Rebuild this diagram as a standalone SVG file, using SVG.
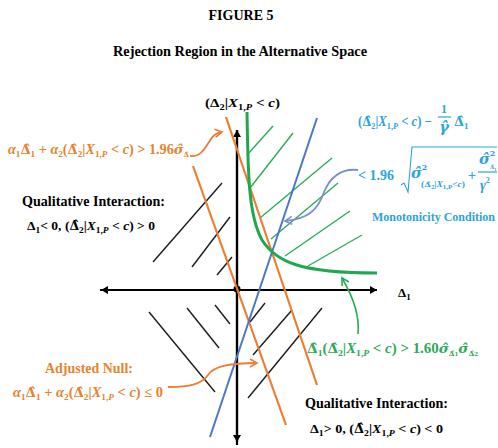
<svg xmlns="http://www.w3.org/2000/svg" width="498" height="448" viewBox="0 0 498 448">
<style>
text{font-family:"Liberation Serif",serif;font-weight:bold}
.h{font-family:"DejaVu Serif",serif;font-size:92%}
.i{font-style:italic}
.s{font-size:9px}
.ss{font-size:7px}
.ax{stroke:#000;stroke-width:2.2;fill:none}
.hb{stroke:#1a1a1a;stroke-width:1.4}
.hg{stroke:#2BAA5A;stroke-width:1.4}
.or{stroke:#ED7D31;stroke-width:2.2;fill:none}
.bl{stroke:#4A78C6;stroke-width:2;fill:none}
.gc{stroke:#1FA84F;stroke-width:3;fill:none}
.ot{fill:#E8822F}
.bt{fill:#2EA3DD}
.gt{fill:#2DAA5A}
</style>
<defs>
<marker id="ah" markerWidth="8" markerHeight="8" refX="7" refY="4" orient="auto" markerUnits="userSpaceOnUse"><path d="M0,0 L7,4 L0,8 Z" fill="#000"/></marker>
<marker id="oa" markerWidth="10" markerHeight="10" refX="8" refY="5" orient="auto" markerUnits="userSpaceOnUse"><path d="M1,1 L8,5 L1,9" fill="none" stroke="#ED7D31" stroke-width="1.6"/></marker>
<marker id="ba" markerWidth="10" markerHeight="10" refX="8" refY="5" orient="auto" markerUnits="userSpaceOnUse"><path d="M1,1 L8,5 L1,9" fill="none" stroke="#7B8FD0" stroke-width="1.6"/></marker>
<marker id="ga" markerWidth="10" markerHeight="10" refX="8" refY="5" orient="auto" markerUnits="userSpaceOnUse"><path d="M1,1 L8,5 L1,9" fill="none" stroke="#2BAA5A" stroke-width="1.6"/></marker>
</defs>

<g id="title">
<text x="241" y="20" font-size="14" text-anchor="middle">FIGURE 5</text>
<text x="240" y="56" font-size="14" text-anchor="middle" textLength="254" lengthAdjust="spacingAndGlyphs">Rejection Region in the Alternative Space</text>
</g>

<g id="hatching">
<line class="hb" x1="153" y1="262" x2="222" y2="183"/>
<line class="hb" x1="192" y1="267" x2="230" y2="217"/>
<line class="hb" x1="217" y1="275" x2="232" y2="257"/>
<line class="hb" x1="149" y1="312" x2="215" y2="392"/>
<line class="hb" x1="187" y1="308" x2="219" y2="348"/>
<line class="hb" x1="215" y1="305" x2="230" y2="324"/>
<line class="hb" x1="250" y1="322" x2="265" y2="303"/>
<line class="hb" x1="253" y1="355" x2="292" y2="310"/>
<line class="hb" x1="248" y1="398" x2="322" y2="308"/>
<line class="hg" x1="247" y1="155" x2="273" y2="126"/>
<line class="hg" x1="250" y1="188" x2="293" y2="133"/>
<line class="hg" x1="260" y1="218" x2="332" y2="158"/>
<line class="hg" x1="271" y1="239" x2="338" y2="183"/>
<line class="hg" x1="285" y1="256" x2="350" y2="211"/>
<line class="hg" x1="308" y1="266" x2="362" y2="235"/>
</g>

<g id="axes">
<line class="ax" x1="100" y1="290" x2="377" y2="290" marker-end="url(#ah)"/>
<line class="ax" x1="377" y1="290" x2="101" y2="290" marker-end="url(#ah)"/>
<line class="ax" x1="237" y1="445" x2="237" y2="130" marker-end="url(#ah)"/>
<line class="ax" x1="237" y1="130" x2="237" y2="442" marker-end="url(#ah)"/>
<circle cx="237" cy="289" r="3.5" fill="#000"/>
</g>

<g id="curves">
<line class="or" x1="226" y1="117" x2="317" y2="385"/>
<line class="or" x1="193" y1="166" x2="286" y2="425"/>
<line class="bl" x1="317" y1="118" x2="210" y2="437"/>
<path class="gc" d="M247,112 C248,170 248,215 262,240 C276,262 300,273 377,273"/>
</g>

<g id="connectors">
<path d="M190,156 C200,157 204,150 209,142 C213,135 216,133 222,132" fill="none" stroke="#ED7D31" stroke-width="1.8" marker-end="url(#oa)"/>
<path d="M168,387 C190,387 202,384 208,375 C214,366 230,363 257,363" fill="none" stroke="#ED7D31" stroke-width="1.8" marker-end="url(#oa)"/>
<path d="M358,170 C340,168 330,178 324,192 C318,210 308,219 285,221" fill="none" stroke="#7B8FD0" stroke-width="1.8" marker-end="url(#ba)"/>
<path d="M358,334 C360,315 352,295 342,278" fill="none" stroke="#2BAA5A" stroke-width="1.6" marker-end="url(#ga)"/>
</g>

<g id="axis-y-label">
<text x="205" y="107" font-size="13" textLength="75" lengthAdjust="spacingAndGlyphs">(Δ<tspan class="s" dy="3">2</tspan><tspan dy="-3">|</tspan><tspan class="i">X</tspan><tspan class="s" dy="3">1,</tspan><tspan class="s i">P</tspan><tspan dy="-3"> &lt; </tspan><tspan class="i">c</tspan>)</text>
</g>
<g id="axis-x-label">
<text x="398" y="297" font-size="13">Δ<tspan class="s" dy="3">1</tspan></text>
</g>

<g id="reject-label">
<text class="ot" x="8" y="154" font-size="14" textLength="181" lengthAdjust="spacingAndGlyphs"><tspan class="i">α</tspan><tspan class="s" dy="3">1</tspan><tspan class="h" dy="-3">Δ̂</tspan><tspan class="s" dy="3">1</tspan><tspan dy="-3"> + </tspan><tspan class="i">α</tspan><tspan class="s" dy="3">2</tspan><tspan dy="-3">(</tspan><tspan class="h">Δ̂</tspan><tspan class="s" dy="3">2</tspan><tspan dy="-3">|</tspan><tspan class="i">X</tspan><tspan class="s" dy="3">1,</tspan><tspan class="s i">P</tspan><tspan dy="-3"> &lt; </tspan><tspan class="i">c</tspan><tspan>) &gt; 1.96</tspan><tspan class="h i">σ̂</tspan><tspan class="ss h" dy="3">Δ̂</tspan></text>
</g>

<g id="qi-left">
<text x="22" y="206" font-size="15" textLength="143" lengthAdjust="spacingAndGlyphs">Qualitative Interaction:</text>
<text x="27" y="230" font-size="13" textLength="128" lengthAdjust="spacingAndGlyphs">Δ<tspan class="s" dy="3">1</tspan><tspan dy="-3">&lt; 0, (</tspan><tspan class="h">Δ̂</tspan><tspan class="s" dy="3">2</tspan><tspan dy="-3">|</tspan><tspan class="i">X</tspan><tspan class="s" dy="3">1,</tspan><tspan class="s i">P</tspan><tspan dy="-3"> &lt; </tspan><tspan class="i">c</tspan><tspan>) &gt; 0</tspan></text>
</g>

<g id="monotonicity">
<text class="bt" x="358" y="126" font-size="14" textLength="74" lengthAdjust="spacingAndGlyphs">(<tspan class="h">Δ̂</tspan><tspan class="s" dy="3">2</tspan><tspan dy="-3">|</tspan><tspan class="i">X</tspan><tspan class="s" dy="3">1,</tspan><tspan class="s i">P</tspan><tspan dy="-3"> &lt; </tspan><tspan class="i">c</tspan><tspan>) −</tspan></text>
<text class="bt" x="444" y="113" font-size="12" text-anchor="middle">1</text>
<line x1="438" y1="117" x2="451" y2="117" stroke="#2EA3DD" stroke-width="1.2"/>
<text class="bt i h" x="444" y="132" font-size="13" text-anchor="middle">γ̂</text>
<text class="bt" x="454" y="126" font-size="14"><tspan class="h">Δ̂</tspan><tspan class="s" dy="3">1</tspan></text>
<text class="bt" x="358" y="180" font-size="14">&lt; 1.96</text>
<path d="M401,185 L404,183 L408,192 L412,147 L497,147" fill="none" stroke="#2EA3DD" stroke-width="1.1"/>
<text class="bt i h" x="411" y="178" font-size="14">σ̂<tspan font-size="8" font-style="normal" dy="-8">2</tspan></text>
<text class="bt" x="421" y="187" font-size="7.5" textLength="44" lengthAdjust="spacingAndGlyphs">(<tspan class="h">Δ̂</tspan><tspan font-size="5.5" dy="2">2</tspan><tspan dy="-2">|</tspan><tspan class="i">X</tspan><tspan font-size="5.5" dy="2">1,P</tspan><tspan dy="-2">&lt;</tspan><tspan class="i">c</tspan>)</text>
<text class="bt" x="468" y="180" font-size="14">+</text>
<text class="bt i h" x="479" y="164" font-size="14">σ̂<tspan font-size="8" font-style="normal" dy="-8">2</tspan></text>
<text class="bt" x="490" y="169" font-size="6"><tspan class="h">Δ̂</tspan><tspan font-size="4.5" dy="1.5">1</tspan></text>
<line x1="478" y1="172" x2="497" y2="172" stroke="#2EA3DD" stroke-width="1.2"/>
<text class="bt i" x="480" y="190" font-size="14">γ<tspan font-size="8" font-style="normal" dy="-7">2</tspan></text>
<text class="bt" x="372" y="221" font-size="12">Monotonicity Condition</text>
</g>

<g id="green-label">
<text class="gt" x="307" y="353" font-size="14" textLength="171" lengthAdjust="spacingAndGlyphs"><tspan class="h">Δ̂</tspan><tspan class="s" dy="3">1</tspan><tspan dy="-3">(</tspan><tspan class="h">Δ̂</tspan><tspan class="s" dy="3">2</tspan><tspan dy="-3">|</tspan><tspan class="i">X</tspan><tspan class="s" dy="3">1,</tspan><tspan class="s i">P</tspan><tspan dy="-3"> &lt; </tspan><tspan class="i">c</tspan><tspan>) &gt; 1.60</tspan><tspan class="i h">σ̂</tspan><tspan class="ss h" dy="3">Δ̂</tspan><tspan class="ss">1</tspan><tspan class="i h" dy="-3">σ̂</tspan><tspan class="ss h" dy="3">Δ̂</tspan><tspan class="ss">2</tspan></text>
</g>

<g id="adjusted-null">
<text class="ot" x="45" y="373" font-size="15" textLength="88" lengthAdjust="spacingAndGlyphs">Adjusted Null:</text>
<text class="ot" x="13" y="397" font-size="14" textLength="150" lengthAdjust="spacingAndGlyphs"><tspan class="i">α</tspan><tspan class="s" dy="3">1</tspan><tspan class="h" dy="-3">Δ̂</tspan><tspan class="s" dy="3">1</tspan><tspan dy="-3"> + </tspan><tspan class="i">α</tspan><tspan class="s" dy="3">2</tspan><tspan dy="-3">(</tspan><tspan class="h">Δ̂</tspan><tspan class="s" dy="3">2</tspan><tspan dy="-3">|</tspan><tspan class="i">X</tspan><tspan class="s" dy="3">1,</tspan><tspan class="s i">P</tspan><tspan dy="-3"> &lt; </tspan><tspan class="i">c</tspan><tspan>) ≤ 0</tspan></text>
</g>

<g id="qi-right">
<text x="305" y="408" font-size="15" textLength="143" lengthAdjust="spacingAndGlyphs">Qualitative Interaction:</text>
<text x="310" y="433" font-size="13" textLength="133" lengthAdjust="spacingAndGlyphs">Δ<tspan class="s" dy="3">1</tspan><tspan dy="-3">&gt; 0, (</tspan><tspan class="h">Δ̂</tspan><tspan class="s" dy="3">2</tspan><tspan dy="-3">|</tspan><tspan class="i">X</tspan><tspan class="s" dy="3">1,</tspan><tspan class="s i">P</tspan><tspan dy="-3"> &lt; </tspan><tspan class="i">c</tspan><tspan>) &lt; 0</tspan></text>
</g>
</svg>
